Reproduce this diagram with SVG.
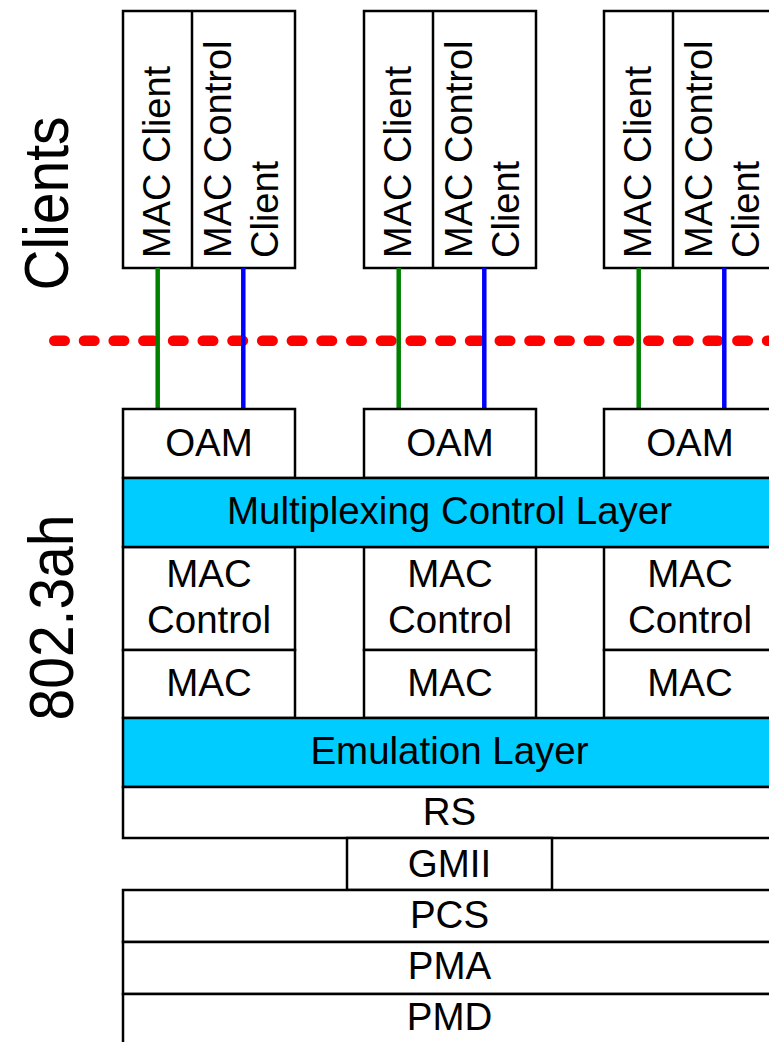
<svg xmlns="http://www.w3.org/2000/svg" width="769" height="1042" viewBox="0 0 769 1042">
<style>
.box{fill:#fff;stroke:#000;stroke-width:2.5}
.layer{fill:#00CCFF;stroke:#000;stroke-width:2.5}
.div{stroke:#000;stroke-width:2.5}
.t{font-family:"Liberation Sans",Arial,Helvetica,sans-serif;font-size:38.5px;fill:#000}
.r{font-size:38px}
.big{font-size:57px;text-anchor:middle}
.c{text-anchor:middle}
.g{stroke:#008000;stroke-width:4.5}
.b{stroke:#0000FF;stroke-width:4.5}
</style>
<rect width="769" height="1042" fill="#fff"/>
<text id="label-clients" class="t big" transform="translate(68,203.5) rotate(-90) scale(1,1.1)">Clients</text>
<text id="label-8023ah" class="t big" transform="translate(72.5,617.5) rotate(-90) scale(1,1.1)">802.3ah</text>

<g id="client1" transform="translate(123,0)">
<rect class="box" x="0" y="11" width="172" height="257"/>
<line class="div" x1="69" y1="11" x2="69" y2="268"/>
<text class="t r" transform="translate(46.5,258) rotate(-90)">MAC Client</text>
<text class="t r" transform="translate(108,258) rotate(-90)">MAC Control</text>
<text class="t r" transform="translate(154.5,258) rotate(-90)">Client</text>
</g>
<g id="client2" transform="translate(364,0)">
<rect class="box" x="0" y="11" width="172" height="257"/>
<line class="div" x1="69" y1="11" x2="69" y2="268"/>
<text class="t r" transform="translate(46.5,258) rotate(-90)">MAC Client</text>
<text class="t r" transform="translate(108,258) rotate(-90)">MAC Control</text>
<text class="t r" transform="translate(154.5,258) rotate(-90)">Client</text>
</g>
<g id="client3" transform="translate(604,0)">
<rect class="box" x="0" y="11" width="172" height="257"/>
<line class="div" x1="69" y1="11" x2="69" y2="268"/>
<text class="t r" transform="translate(46.5,258) rotate(-90)">MAC Client</text>
<text class="t r" transform="translate(108,258) rotate(-90)">MAC Control</text>
<text class="t r" transform="translate(154.5,258) rotate(-90)">Client</text>
</g>

<line id="boundary" x1="54.25" y1="340.7" x2="790" y2="340.7" stroke="#FF0000" stroke-width="10.5" stroke-linecap="round" stroke-dasharray="10.5 19.2"/>
<g id="connectors">
<line class="g" x1="157.7" y1="268" x2="157.7" y2="409"/>
<line class="b" x1="243.3" y1="268" x2="243.3" y2="409"/>
<line class="g" x1="398.7" y1="268" x2="398.7" y2="409"/>
<line class="b" x1="484.3" y1="268" x2="484.3" y2="409"/>
<line class="g" x1="638.7" y1="268" x2="638.7" y2="409"/>
<line class="b" x1="724.3" y1="268" x2="724.3" y2="409"/>
</g>

<g id="stack1" transform="translate(123,0)">
<rect class="box" x="0" y="409" width="172" height="69"/>
<text class="t c" x="86" y="456">OAM</text>
<rect class="box" x="0" y="547" width="172" height="103"/>
<text class="t c" x="86" y="587">MAC</text>
<text class="t c" x="86" y="633">Control</text>
<rect class="box" x="0" y="650" width="172" height="68"/>
<text class="t c" x="86" y="696">MAC</text>
</g>
<g id="stack2" transform="translate(364,0)">
<rect class="box" x="0" y="409" width="172" height="69"/>
<text class="t c" x="86" y="456">OAM</text>
<rect class="box" x="0" y="547" width="172" height="103"/>
<text class="t c" x="86" y="587">MAC</text>
<text class="t c" x="86" y="633">Control</text>
<rect class="box" x="0" y="650" width="172" height="68"/>
<text class="t c" x="86" y="696">MAC</text>
</g>
<g id="stack3" transform="translate(604,0)">
<rect class="box" x="0" y="409" width="172" height="69"/>
<text class="t c" x="86" y="456">OAM</text>
<rect class="box" x="0" y="547" width="172" height="103"/>
<text class="t c" x="86" y="587">MAC</text>
<text class="t c" x="86" y="633">Control</text>
<rect class="box" x="0" y="650" width="172" height="68"/>
<text class="t c" x="86" y="696">MAC</text>
</g>

<g id="multiplexing">
<rect class="layer" x="123" y="478" width="653" height="69"/>
<text class="t c" x="449.5" y="524">Multiplexing Control Layer</text>
</g>
<g id="emulation">
<rect class="layer" x="123" y="718" width="653" height="69"/>
<text class="t c" x="449.5" y="764">Emulation Layer</text>
</g>
<g id="rs">
<rect class="box" x="123" y="787" width="653" height="51"/>
<text class="t c" x="449.5" y="825">RS</text>
</g>
<g id="gmii">
<rect class="box" x="347" y="838" width="205" height="52"/>
<text class="t c" x="449.5" y="877">GMII</text>
</g>
<g id="pcs">
<rect class="box" x="123" y="890" width="653" height="52"/>
<text class="t c" x="449.5" y="928">PCS</text>
</g>
<g id="pma">
<rect class="box" x="123" y="942" width="653" height="52"/>
<text class="t c" x="449.5" y="979">PMA</text>
</g>
<g id="pmd">
<rect class="box" x="123" y="994" width="653" height="60"/>
<text class="t c" x="449.5" y="1030">PMD</text>
</g>
</svg>
